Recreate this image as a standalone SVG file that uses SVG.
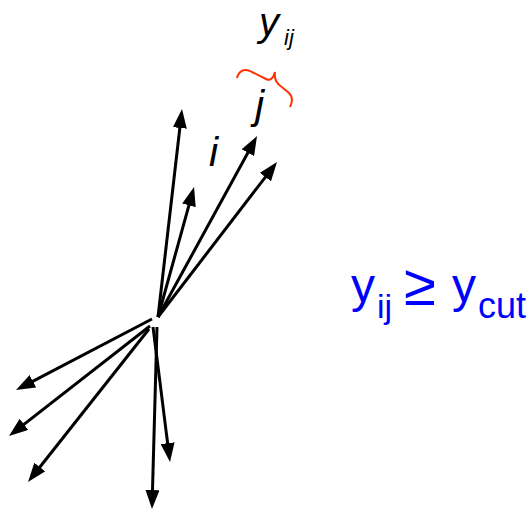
<svg xmlns="http://www.w3.org/2000/svg" width="531" height="511" viewBox="0 0 531 511">
<style>
.ln{stroke:#000;stroke-width:3;fill:none;marker-end:url(#ah)}
.lbl{font-family:"Liberation Sans",Arial,sans-serif;font-style:italic;fill:#000}
.blue{font-family:"Liberation Sans",Arial,sans-serif;fill:#0000ff}
</style>
<defs>
<marker id="ah" viewBox="0 0 19 14" refX="11" refY="7" markerWidth="19" markerHeight="14" markerUnits="userSpaceOnUse" orient="auto">
<path d="M0,0 L19,7 L0,14 z" fill="#000"/>
</marker>
</defs>
<rect width="531" height="511" fill="#fff"/>
<g id="connectors">
<line class="ln" x1="158" y1="317" x2="181.1" y2="117"/>
<line class="ln" x1="158" y1="317" x2="191.9" y2="194.7"/>
<line class="ln" x1="158" y1="317" x2="253.2" y2="143"/>
<line class="ln" x1="158" y1="317" x2="272.1" y2="168.3"/>
<line class="ln" x1="152" y1="319" x2="23.1" y2="386.3"/>
<line class="ln" x1="150" y1="326" x2="15.3" y2="431.1"/>
<line class="ln" x1="149" y1="329" x2="33" y2="475.7"/>
<line class="ln" x1="153" y1="327" x2="169" y2="454.1"/>
<line class="ln" x1="157" y1="327" x2="152.2" y2="501"/>
</g>
<g id="brace">
<path d="M237,78 C239,70 245,68 252,72 L266,79 C270,81 273,79 275,72 C274,80 277,84 283,88 L289,93 C293,97 292,103 290,107" fill="none" stroke="#ff3300" stroke-width="2"/>
</g>
<g id="label-yij">
<text class="lbl" x="259" y="36" font-size="40">y</text>
<text class="lbl" x="284" y="45" font-size="22">ij</text>
</g>
<g id="label-j">
<text class="lbl" x="255" y="119" font-size="41">j</text>
</g>
<g id="label-i">
<text class="lbl" x="209" y="166" font-size="41">i</text>
</g>
<g id="formula">
<text class="blue" x="351" y="302" font-size="48">y</text>
<text class="blue" x="377" y="318" font-size="34">ij</text>
<text class="blue" x="404" y="305" font-size="58">≥</text>
<text class="blue" x="452" y="302" font-size="48">y</text>
<text class="blue" x="478" y="318" font-size="36">cut</text>
</g>
</svg>
